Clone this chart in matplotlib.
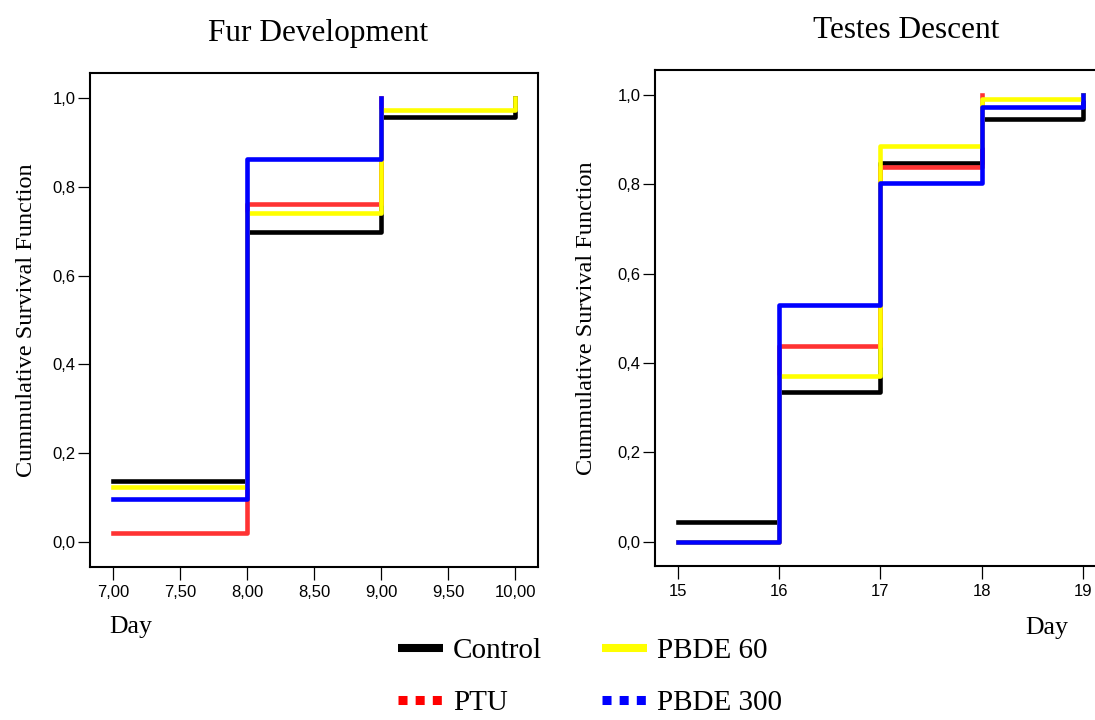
import matplotlib
matplotlib.use("Agg")
import matplotlib.pyplot as plt
from matplotlib.lines import Line2D

# ---------------- data ----------------
fur_days_full = [7, 8, 9, 10]
fur_days_short = [7, 8, 9]
fur_control = [0.138, 0.698, 0.956, 1.0]
fur_ptu = [0.020, 0.761, 1.0]
fur_pbde60 = [0.123, 0.741, 0.972, 1.0]
fur_pbde300 = [0.096, 0.863, 1.0]

testes_days_full = [15, 16, 17, 18, 19]
testes_days_short = [15, 16, 17, 18]
testes_control = [0.044, 0.335, 0.847, 0.946, 1.0]
testes_ptu = [0.0, 0.438, 0.839, 1.0]
testes_pbde60 = [0.0, 0.372, 0.886, 0.990, 1.0]
testes_pbde300 = [0.0, 0.529, 0.803, 0.973, 1.0]

y_ticks = [0.0, 0.2, 0.4, 0.6, 0.8, 1.0]
y_ticklabels = ["0,0", "0,2", "0,4", "0,6", "0,8", "1,0"]
fur_xticks = [7.0, 7.5, 8.0, 8.5, 9.0, 9.5, 10.0]
fur_xticklabels = ["7,00", "7,50", "8,00", "8,50", "9,00", "9,50", "10,00"]
testes_xticks = [15, 16, 17, 18, 19]
testes_xticklabels = ["15", "16", "17", "18", "19"]

series_names = ["Control", "PTU", "PBDE 60", "PBDE 300"]
line_colors = ["#000000", "#ff3333", "#ffff00", "#0000ff"]
legend_colors = ["#000000", "#ff0000", "#ffff00", "#0000ff"]

SERIF = ["Liberation Serif", "DejaVu Serif"]
SANS = ["Liberation Sans", "DejaVu Sans"]

W, H = 1095, 720
fig = plt.figure(figsize=(W / 100, H / 100), dpi=100)


def px_axes(left, top, right, bottom):
    return fig.add_axes([left / W, (H - bottom) / H, (right - left) / W, (bottom - top) / H])


ax1 = px_axes(90, 73, 538, 567)
ax2 = px_axes(655, 70.4, 1106, 566)

LW = 3.3


def style(ax, xticks, xlabels, xlim, ylim):
    ax.set_xlim(*xlim)
    ax.set_ylim(*ylim)
    ax.set_xticks(xticks)
    ax.set_xticklabels(xlabels, family=SANS, fontsize=12)
    ax.set_yticks(y_ticks)
    ax.set_yticklabels(y_ticklabels, family=SANS, fontsize=12)
    for s in ax.spines.values():
        s.set_linewidth(1.5)
    ax.tick_params(axis="both", direction="out", length=9, width=0.9, color="black")
    ax.tick_params(axis="x", pad=4)
    ax.tick_params(axis="y", pad=1.5)


# Fur development
ax1.step(fur_days_full, fur_control, where="post", color=line_colors[0], lw=LW)
ax1.step(fur_days_short, fur_ptu, where="post", color=line_colors[1], lw=LW)
ax1.step(fur_days_full, fur_pbde60, where="post", color=line_colors[2], lw=LW)
ax1.step(fur_days_short, fur_pbde300, where="post", color=line_colors[3], lw=LW)
style(ax1, fur_xticks, fur_xticklabels, (6.83, 10.168), (-0.056, 1.056))

# Testes descent
ax2.step(testes_days_full, testes_control, where="post", color=line_colors[0], lw=LW)
ax2.step(testes_days_short, testes_ptu, where="post", color=line_colors[1], lw=LW)
ax2.step(testes_days_full, testes_pbde60, where="post", color=line_colors[2], lw=LW)
ax2.step(testes_days_full, testes_pbde300, where="post", color=line_colors[3], lw=LW)
style(ax2, testes_xticks, testes_xticklabels, (14.775, 19.225), (-0.054, 1.055))

# titles
ax1.set_title("Fur Development", family=SERIF, fontsize=22.5, x=0.51, y=1.065, pad=0)
ax2.set_title("Testes Descent", family=SERIF, fontsize=22.5, x=0.5565, y=1.065, pad=0)

# y labels
for ax, xc in ((ax1, -0.118), (ax2, -0.129)):
    ax.set_ylabel("Cummulative Survival Function", family=SERIF, fontsize=17.5)
    ax.yaxis.set_label_coords(xc, 0.5)

# x labels
ax1.set_xlabel("Day", family=SERIF, fontsize=18.5)
ax1.xaxis.label.set_va("baseline")
ax1.xaxis.set_label_coords(0.091, -0.1336)
ax2.set_xlabel("Day", family=SERIF, fontsize=18.5)
ax2.xaxis.label.set_va("baseline")
ax2.xaxis.set_label_coords(0.869, -0.137)

# legend
handles = [
    Line2D([], [], color=legend_colors[0], lw=5.8, solid_capstyle="butt"),
    Line2D([], [], color=legend_colors[1], lw=6.5, linestyle=(0, (1, 0.9)), dash_capstyle="butt"),
    Line2D([], [], color=legend_colors[2], lw=5.8, solid_capstyle="butt"),
    Line2D([], [], color=legend_colors[3], lw=6.5, linestyle=(0, (1, 0.9)), dash_capstyle="butt"),
]
fig.legend(handles, series_names, ncol=2, loc="upper left",
           bbox_to_anchor=(398 / W, (H - 638) / H), frameon=False,
           prop={"family": SERIF, "size": 21}, handlelength=1.54,
           handletextpad=0.34, columnspacing=2.05, labelspacing=0.86,
           borderpad=0, borderaxespad=0)

fig.savefig("out.png", dpi=100)
